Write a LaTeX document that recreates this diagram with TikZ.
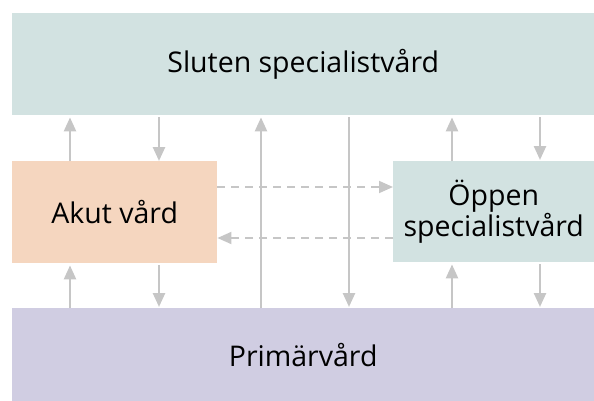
\documentclass[tikz,border=0pt]{standalone}
\usepackage{fontspec}
\setmainfont{Open Sans}
\usetikzlibrary{arrows.meta}
\definecolor{tealbg}{HTML}{D2E2E1}
\definecolor{peachbg}{HTML}{F5D6BF}
\definecolor{lilacbg}{HTML}{D0CDE2}
\definecolor{arrowgray}{HTML}{C6C6C6}
\tikzset{
  box/.style={fill=#1, draw=none, anchor=north west, inner sep=0pt,
    font=\fontsize{28.5}{26.5}\selectfont, align=center},
  arr/.style={draw=arrowgray, line width=2.5pt,
    -{Triangle[width=12pt,length=14pt]}},
  dasharr/.style={arr, dash pattern=on 8pt off 6pt, line width=1.8pt}
}
\begin{document}
\begin{tikzpicture}[x=1pt,y=-1pt]
  \useasboundingbox (0,0) rectangle (594,401);
  % boxes
  \node[box=tealbg, minimum width=582pt, minimum height=102pt] (sluten) at (12,13) {Sluten specialistvård};
  \node[box=peachbg, minimum width=205pt, minimum height=102pt] (akut) at (12,161) {Akut vård};
  \node[box=tealbg, minimum width=201pt, minimum height=101pt] (oppen) at (393,161) {Öppen\\specialistvård};
  \node[box=lilacbg, minimum width=582pt, minimum height=93pt] (prim) at (12,308) {Primärvård};
  % columns and rows of the connectors
  \coordinate (c1) at (70,0);
  \coordinate (c2) at (159,0);
  \coordinate (c3) at (261,0);
  \coordinate (c4) at (349,0);
  \coordinate (c5) at (452,0);
  \coordinate (c6) at (540,0);
  \coordinate (r1) at (0,187);
  \coordinate (r2) at (0,238);
  % akut <-> sluten / primär
  \draw[arr, shorten >=2pt] (akut.north -| c1) -- (sluten.south -| c1);
  \draw[arr, shorten <=2pt] (sluten.south -| c2) -- (akut.north -| c2);
  \draw[arr, shorten >=2pt] (prim.north -| c1) -- (akut.south -| c1);
  \draw[arr, shorten <=2pt, shorten >=1pt] (akut.south -| c2) -- (prim.north -| c2);
  % primär <-> sluten
  \draw[arr, shorten >=2pt] (prim.north -| c3) -- (sluten.south -| c3);
  \draw[arr, shorten <=2pt, shorten >=1pt] (sluten.south -| c4) -- (prim.north -| c4);
  % öppen <-> sluten / primär
  \draw[arr, shorten >=2pt] (oppen.north -| c5) -- (sluten.south -| c5);
  \draw[arr, shorten <=2pt, shorten >=1pt] (sluten.south -| c6) -- (oppen.north -| c6);
  \draw[arr, shorten >=2pt] (prim.north -| c5) -- (oppen.south -| c5);
  \draw[arr, shorten <=2pt, shorten >=1pt] (oppen.south -| c6) -- (prim.north -| c6);
  % akut <-> öppen
  \draw[dasharr] (akut.east |- r1) -- (oppen.west |- r1);
  \draw[dasharr] (oppen.west |- r2) -- (akut.east |- r2);
\end{tikzpicture}
\end{document}
